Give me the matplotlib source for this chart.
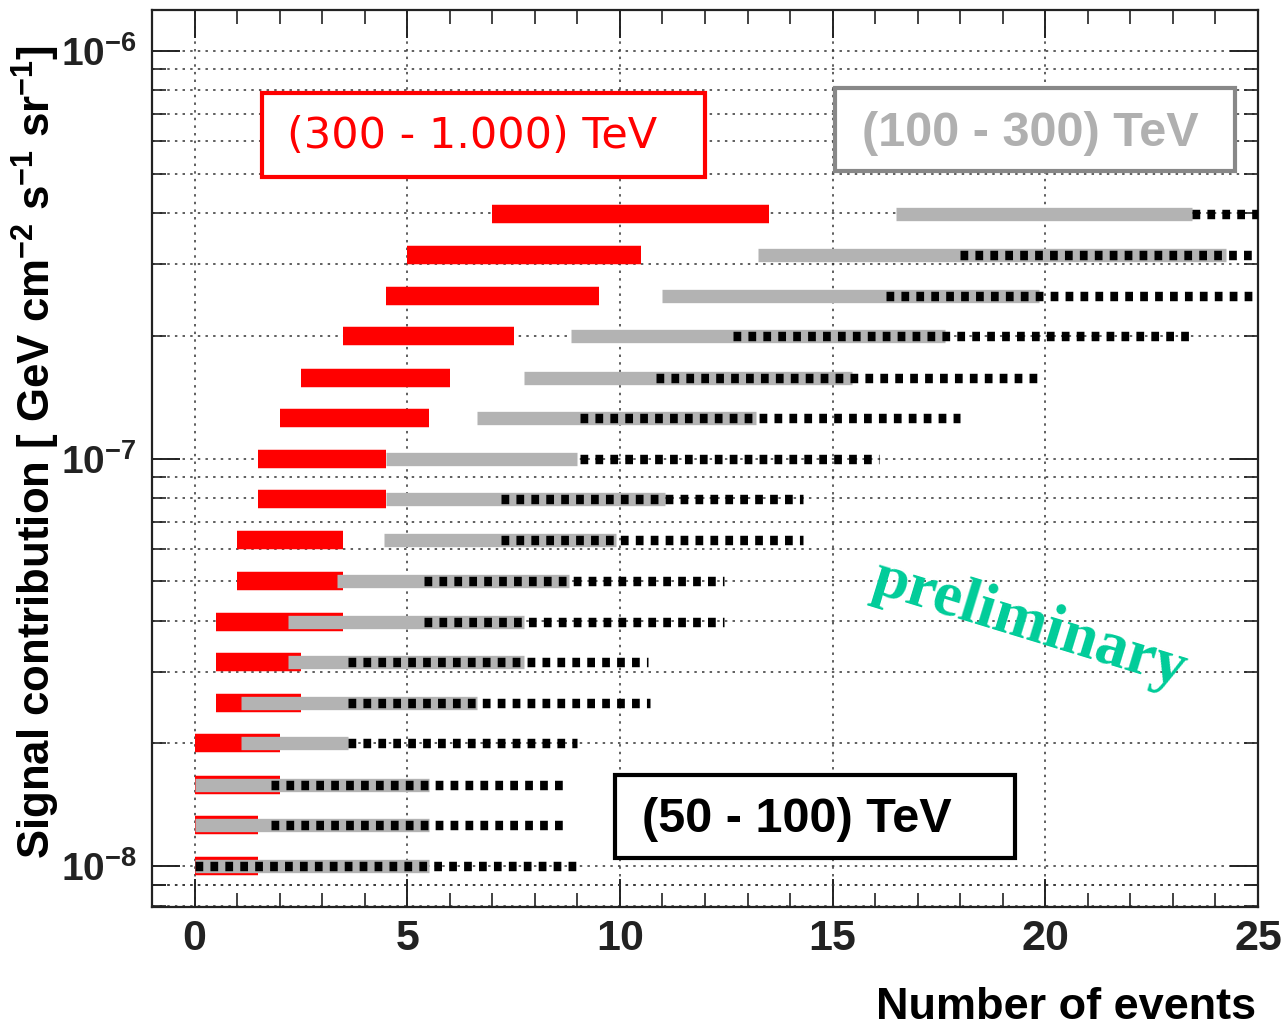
import math
import matplotlib
matplotlib.use("Agg")
import matplotlib.pyplot as plt
from matplotlib.ticker import FixedLocator, MultipleLocator, NullFormatter, FuncFormatter
from matplotlib.patches import Rectangle

# ---------------- data ----------------
signal_levels = [1.00e-8, 1.26e-8, 1.58e-8, 2.00e-8, 2.51e-8, 3.16e-8, 3.98e-8,
                 5.01e-8, 6.31e-8, 7.94e-8, 1.00e-7, 1.26e-7, 1.58e-7, 2.00e-7,
                 2.51e-7, 3.16e-7, 3.98e-7]
# (300 - 1.000) TeV  -> red
red_lo = [0.0, 0.0, 0.0, 0.0, 0.5, 0.5, 0.5, 1.0, 1.0, 1.5, 1.5, 2.0, 2.5, 3.5, 4.5, 5.0, 7.0]
red_hi = [1.5, 1.5, 2.0, 2.0, 2.5, 2.5, 3.5, 3.5, 3.5, 4.5, 4.5, 5.5, 6.0, 7.5, 9.5, 10.5, 13.5]
# (100 - 300) TeV  -> gray
gray_lo = [0.0, 0.0, 0.0, 1.1, 1.1, 2.2, 2.2, 3.35, 4.45, 4.5, 4.5, 6.65, 7.75, 8.85, 11.0, 13.25, 16.5]
gray_hi = [5.5, 5.5, 5.5, 3.6, 6.65, 7.75, 7.75, 8.8, 9.9, 11.05, 9.0, 13.2, 15.45, 17.65, 19.85, 24.25, 23.45]
# (50 - 100) TeV   -> black dotted
black_lo = [0.0, 1.8, 1.8, 3.6, 3.6, 3.6, 5.4, 5.4, 7.2, 7.2, 9.05, 9.05, 10.85, 12.65, 16.25, 18.0, 23.45]
black_hi = [9.0, 8.8, 8.8, 9.0, 10.7, 10.65, 12.45, 12.45, 14.3, 14.3, 16.1, 18.0, 19.85, 23.45, 25.0, 25.0, 25.0]

x_ticks = [0, 5, 10, 15, 20, 25]
y_major = [1e-8, 1e-7, 1e-6]
x_label = "Number of events"
y_label = r"Signal contribution [ GeV cm$^{-2}$ s$^{-1}$ sr$^{-1}$]"
label_high = "(300 - 1.000) TeV"
label_mid = "(100 - 300) TeV"
label_low = "(50 - 100) TeV"
watermark = "preliminary"

# ---------------- style ----------------
plt.rcParams["font.family"] = ["Liberation Sans", "DejaVu Sans"]
plt.rcParams["font.weight"] = "bold"
plt.rcParams["mathtext.fontset"] = "custom"
plt.rcParams["mathtext.rm"] = "Liberation Sans:bold"
plt.rcParams["mathtext.bf"] = "Liberation Sans:bold"
plt.rcParams["mathtext.it"] = "Liberation Sans:bold:italic"
plt.rcParams["mathtext.default"] = "rm"

W, H = 1286, 1026
fig = plt.figure(figsize=(W / 100, H / 100), dpi=100)
L, R, T, B = 152, 1258, 10, 907
ax = fig.add_axes([L / W, (H - B) / H, (R - L) / W, (B - T) / H])

ax.set_yscale("log")
ax.set_xlim(-1, 25)
ax.set_ylim(10 ** -8.1, 10 ** -5.9)

RED = "#ff0000"
GRAY = "#b3b3b3"

for y, r0, r1, g0, g1, b0, b1 in zip(signal_levels, red_lo, red_hi, gray_lo, gray_hi,
                                     black_lo, black_hi):
    ax.plot([r0, r1], [y, y], color=RED, lw=13.3, solid_capstyle="butt", zorder=3)
    ax.plot([g0, g1], [y, y], color=GRAY, lw=9.6, solid_capstyle="butt", zorder=4)
    ax.plot([b0, b1], [y, y], color="black", lw=6.8, linestyle=(0, (0.82, 0.76)),
            dash_capstyle="butt", zorder=5)

# ticks
ax.xaxis.set_major_locator(FixedLocator(x_ticks))
ax.xaxis.set_minor_locator(MultipleLocator(1))
ax.yaxis.set_major_locator(FixedLocator(y_major))
y_minor = [m * 10.0 ** e for e in (-9, -8, -7) for m in range(2, 10)] + [9e-9]
ax.yaxis.set_minor_locator(FixedLocator(y_minor))
ax.yaxis.set_minor_formatter(NullFormatter())
ax.yaxis.set_major_formatter(FuncFormatter(lambda v, p: r"$10^{%d}$" % round(math.log10(v))))

ax.tick_params(which="both", direction="in", top=True, right=True, colors="#222222")
ax.tick_params(which="major", length=20, width=1.4)
ax.tick_params(which="minor", length=10, width=1.2)
ax.tick_params(axis="x", which="major", pad=9, labelsize=31)
ax.tick_params(axis="y", which="major", pad=11, labelsize=28)

for s in ax.spines.values():
    s.set_linewidth(1.6)
    s.set_color("#222222")

# grid
ax.set_axisbelow(True)
ax.grid(which="major", axis="x", linestyle=(0, (1.6, 3.4)), color="#333333", lw=1.1)
ax.grid(which="both", axis="y", linestyle=(0, (1.6, 3.4)), color="#333333", lw=1.1)

# axis titles
fig.text(1256 / W, (H - 1019) / H, x_label, ha="right", va="baseline", fontsize=32.5,
         fontweight="bold")
fig.text(36 / W, (H - 45) / H, y_label, rotation=90, ha="center", va="top", fontsize=31.5,
         fontweight="bold")

def ax_x(px):
    return (px - L) / (R - L)

def ax_y(py):
    return (B - py) / (B - T)

# label boxes
boxes = [
    (262, 93, 705, 177, RED, RED, label_high, 287, 136, ["DejaVu Sans"], "normal", 31),
    (835, 88, 1235, 171, "#888888", "#b0b0b0", label_mid, 862, 134, ["Liberation Sans"], "bold", 35),
    (615, 775, 1015, 858, "black", "black", label_low, 642, 819, ["Liberation Sans"], "bold", 35),
]
for x0, y0, x1, y1, ec, tc, txt, tx, ty, fam, wt, fs in boxes:
    ax.add_patch(Rectangle((ax_x(x0), ax_y(y1)), ax_x(x1) - ax_x(x0), ax_y(y0) - ax_y(y1),
                           transform=ax.transAxes, fill=True, facecolor="white",
                           edgecolor=ec, lw=3.0, zorder=6))
    ax.text(ax_x(tx), ax_y(ty), txt, transform=ax.transAxes, ha="left", va="center",
            color=tc, fontsize=fs, fontweight=wt, family=fam, zorder=7)

ax.text(ax_x(1029), ax_y(625), watermark, transform=ax.transAxes, ha="center",
        va="center", rotation=-17, rotation_mode="anchor", color="#00cc99",
        fontsize=46, fontweight="bold", family=["Liberation Serif", "DejaVu Serif"],
        zorder=7)

fig.savefig("out.png", dpi=100)
